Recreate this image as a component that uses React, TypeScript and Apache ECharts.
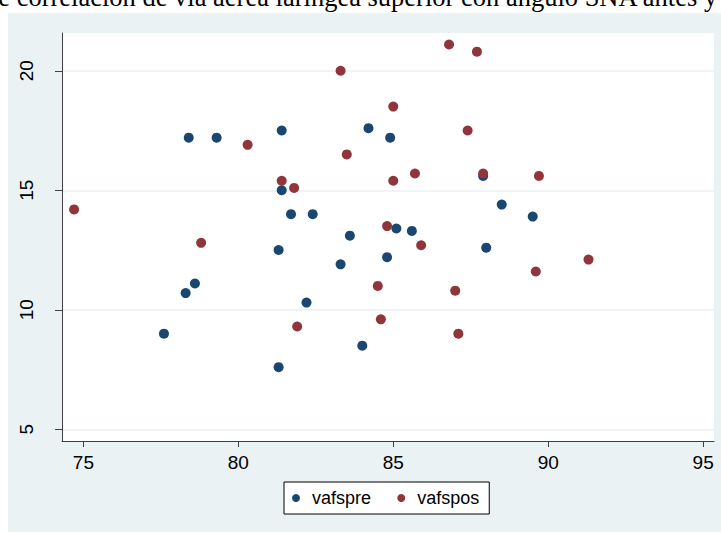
import React, { useEffect, useRef } from "react";
import * as echarts from "echarts";

const seriesNames = ["vafspre", "vafspos"];
const preX = [77.6, 78.3, 78.4, 78.6, 79.3, 81.3, 81.3, 81.4, 81.4, 81.7, 82.2, 82.4, 83.3, 83.6, 84.0, 84.2, 84.8, 84.9, 85.1, 85.6, 87.9, 88.0, 88.5, 89.5];
const preY = [9.0, 10.7, 17.2, 11.1, 17.2, 7.6, 12.5, 15.0, 17.5, 14.0, 10.3, 14.0, 11.9, 13.1, 8.5, 17.6, 12.2, 17.2, 13.4, 13.3, 15.6, 12.6, 14.4, 13.9];
const posX = [74.7, 78.8, 80.3, 81.4, 81.8, 81.9, 83.3, 83.5, 84.5, 84.6, 84.8, 85.0, 85.0, 85.7, 85.9, 86.8, 87.0, 87.1, 87.4, 87.7, 87.9, 89.6, 89.7, 91.3];
const posY = [14.2, 12.8, 16.9, 15.4, 15.1, 9.3, 20.0, 16.5, 11.0, 9.6, 13.5, 18.5, 15.4, 15.7, 12.7, 21.1, 10.8, 9.0, 17.5, 20.8, 15.7, 11.6, 15.6, 12.1];
const xTicks = [75, 80, 85, 90, 95];
const yTicks = [5, 10, 15, 20];
const titleText = "de correlación de vía aérea laríngea superior con ángulo SNA antes y";

const BG = "#EAF2F3";
const AXIS = "#404040";
const FONT = "Liberation Sans, Arial, sans-serif";

export default function App() {
  const ref = useRef<HTMLDivElement>(null);
  useEffect(() => {
    if (!ref.current) return;
    const chart = echarts.init(ref.current, undefined, { renderer: "svg" });
    const pre = preX.map((x, i) => [x, preY[i]]);
    const pos = posX.map((x, i) => [x, posY[i]]);
    chart.setOption({
      animation: false,
      backgroundColor: "#ffffff",
      graphic: [
        {
          type: "rect",
          z: -10,
          shape: { x: 8, y: 13, width: 713, height: 519 },
          style: { fill: BG },
        },
        {
          type: "text",
          x: -15,
          y: 10,
          style: {
            text: titleText,
            font: 'normal 26.5px "Liberation Serif", serif',
            fill: "#000",
            verticalAlign: "bottom",
          },
        },
      ],
      grid: {
        left: 62,
        right: 7,
        top: 33,
        bottom: 92,
        show: true,
        backgroundColor: "#ffffff",
        borderWidth: 0,
      },
      legend: {
        data: seriesNames,
        left: 284,
        top: 482,
        orient: "horizontal",
        icon: "circle",
        itemWidth: 22,
        itemHeight: 8,
        itemGap: 26.2,
        padding: [7, 10, 7, 8],
        borderColor: "#000",
        borderWidth: 1,
        backgroundColor: "#ffffff",
        textStyle: { fontSize: 18, color: "#000", fontFamily: FONT },
      },
      xAxis: {
        type: "value",
        min: 74.31,
        max: 95.35,
        axisLine: { show: true, lineStyle: { color: AXIS, width: 1 } },
        axisTick: { show: true, customValues: xTicks, length: 6, lineStyle: { color: AXIS } },
        axisLabel: { customValues: xTicks, fontSize: 19, color: "#000", fontFamily: FONT, margin: 12 },
        splitLine: { show: false },
      },
      yAxis: {
        type: "value",
        min: 4.51,
        max: 21.58,
        axisLine: { show: true, lineStyle: { color: AXIS, width: 1 } },
        axisTick: { show: true, customValues: yTicks, length: 7, lineStyle: { color: AXIS } },
        axisLabel: { customValues: yTicks, rotate: 90, fontSize: 19, color: "#000", fontFamily: FONT, margin: 26 },
        splitLine: { show: true, lineStyle: { color: BG, width: 1.5 } },
      },
      series: [
        {
          name: seriesNames[0],
          type: "scatter",
          data: pre,
          symbolSize: 10,
          itemStyle: { color: "#1A476F", opacity: 1 },
        },
        {
          name: seriesNames[1],
          type: "scatter",
          data: pos,
          symbolSize: 10,
          itemStyle: { color: "#90353B", opacity: 1 },
        },
      ],
    });
    return () => chart.dispose();
  }, []);
  return (
    <div
      ref={ref}
      style={{ position: "absolute", left: 0, top: 0, width: 721, height: 533 }}
    />
  );
}
